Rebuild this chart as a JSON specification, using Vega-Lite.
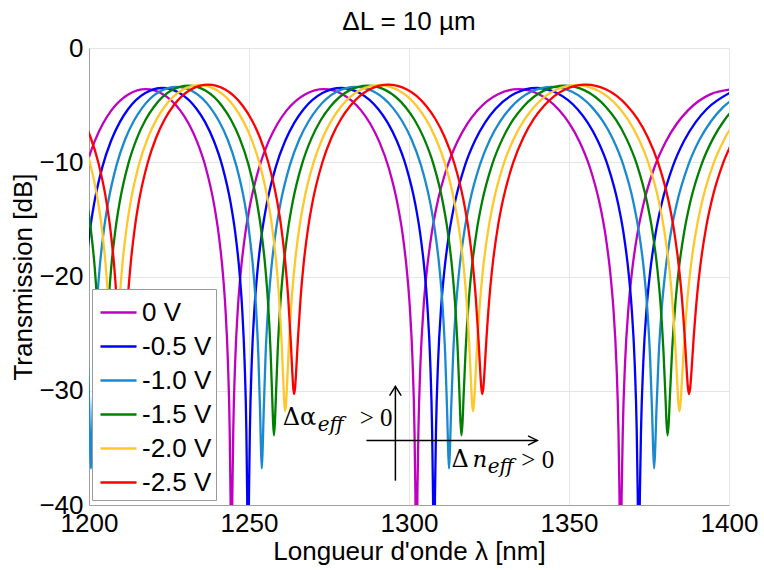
{
"$schema":"https://vega.github.io/schema/vega-lite/v6.json",
"width":640,"height":457,
"autosize":{"type":"none"},
"padding":{"left":89,"top":48,"right":35,"bottom":65},
"background":"white",
"config":{"font":"Liberation Sans","view":{"stroke":null}},
"title":{"text":"ΔL = 10 µm","fontSize":26,"fontWeight":"normal","frame":"group","anchor":"middle","offset":0,"color":"#000","font":"Liberation Sans"},
"datasets":{
"curves":[
{"V":"0 V","wl":1196.35,"T":-13.80},{"V":"0 V","wl":1199.03,"T":-10.46},{"V":"0 V","wl":1201.7,"T":-8.22},{"V":"0 V","wl":1204.38,"T":-6.61},{"V":"0 V","wl":1207.05,"T":-5.44},{"V":"0 V","wl":1212.4,"T":-4.04},{"V":"0 V","wl":1217.75,"T":-3.60},{"V":"0 V","wl":1223.1,"T":-4.04},{"V":"0 V","wl":1228.45,"T":-5.44},{"V":"0 V","wl":1231.13,"T":-6.61},{"V":"0 V","wl":1233.8,"T":-8.22},{"V":"0 V","wl":1236.48,"T":-10.46},{"V":"0 V","wl":1239.15,"T":-13.80},{"V":"0 V","wl":1240.49,"T":-16.23},{"V":"0 V","wl":1241.83,"T":-19.71},{"V":"0 V","wl":1242.63,"T":-22.78},{"V":"0 V","wl":1243.43,"T":-27.61},{"V":"0 V","wl":1243.97,"T":-33.52},{"V":"0 V","wl":1244.23,"T":-39.15},
{"V":"0 V","wl":1244.5,"T":-48.6},{"V":"0 V","wl":1244.79,"T":-39.15},{"V":"0 V","wl":1245.08,"T":-33.52},{"V":"0 V","wl":1245.66,"T":-27.61},{"V":"0 V","wl":1246.52,"T":-22.78},{"V":"0 V","wl":1247.39,"T":-19.71},{"V":"0 V","wl":1248.84,"T":-16.23},{"V":"0 V","wl":1250.28,"T":-13.80},{"V":"0 V","wl":1253.17,"T":-10.46},{"V":"0 V","wl":1256.06,"T":-8.22},{"V":"0 V","wl":1258.95,"T":-6.61},{"V":"0 V","wl":1261.84,"T":-5.44},{"V":"0 V","wl":1267.62,"T":-4.04},{"V":"0 V","wl":1273.4,"T":-3.60},{"V":"0 V","wl":1279.18,"T":-4.04},{"V":"0 V","wl":1284.96,"T":-5.44},{"V":"0 V","wl":1287.85,"T":-6.61},{"V":"0 V","wl":1290.74,"T":-8.22},{"V":"0 V","wl":1293.63,"T":-10.46},{"V":"0 V","wl":1296.52,"T":-13.80},{"V":"0 V","wl":1297.97,"T":-16.23},{"V":"0 V","wl":1299.41,"T":-19.71},{"V":"0 V","wl":1300.28,"T":-22.78},{"V":"0 V","wl":1301.14,"T":-27.61},{"V":"0 V","wl":1301.72,"T":-33.52},{"V":"0 V","wl":1302.01,"T":-39.15},
{"V":"0 V","wl":1302.3,"T":-48.6},{"V":"0 V","wl":1302.62,"T":-39.15},{"V":"0 V","wl":1302.94,"T":-33.52},{"V":"0 V","wl":1303.58,"T":-27.61},{"V":"0 V","wl":1304.53,"T":-22.78},{"V":"0 V","wl":1305.49,"T":-19.71},{"V":"0 V","wl":1307.09,"T":-16.23},{"V":"0 V","wl":1308.68,"T":-13.80},{"V":"0 V","wl":1311.87,"T":-10.46},{"V":"0 V","wl":1315.06,"T":-8.22},{"V":"0 V","wl":1318.25,"T":-6.61},{"V":"0 V","wl":1321.44,"T":-5.44},{"V":"0 V","wl":1327.82,"T":-4.04},{"V":"0 V","wl":1334.2,"T":-3.60},{"V":"0 V","wl":1340.58,"T":-4.04},{"V":"0 V","wl":1346.96,"T":-5.44},{"V":"0 V","wl":1350.15,"T":-6.61},{"V":"0 V","wl":1353.34,"T":-8.22},{"V":"0 V","wl":1356.53,"T":-10.46},{"V":"0 V","wl":1359.72,"T":-13.80},{"V":"0 V","wl":1361.32,"T":-16.23},{"V":"0 V","wl":1362.91,"T":-19.71},{"V":"0 V","wl":1363.87,"T":-22.78},{"V":"0 V","wl":1364.82,"T":-27.61},{"V":"0 V","wl":1365.46,"T":-33.52},{"V":"0 V","wl":1365.78,"T":-39.15},
{"V":"0 V","wl":1366.1,"T":-48.6},{"V":"0 V","wl":1366.45,"T":-39.15},{"V":"0 V","wl":1366.81,"T":-33.52},{"V":"0 V","wl":1367.51,"T":-27.61},{"V":"0 V","wl":1368.57,"T":-22.78},{"V":"0 V","wl":1369.63,"T":-19.71},{"V":"0 V","wl":1371.39,"T":-16.23},{"V":"0 V","wl":1373.15,"T":-13.80},{"V":"0 V","wl":1376.68,"T":-10.46},{"V":"0 V","wl":1380.2,"T":-8.22},{"V":"0 V","wl":1383.73,"T":-6.61},{"V":"0 V","wl":1387.25,"T":-5.44},{"V":"0 V","wl":1394.3,"T":-4.04},{"V":"0 V","wl":1401.35,"T":-3.60},

{"V":"-0.5 V","wl":1198.07,"T":-22.68},{"V":"-0.5 V","wl":1198.88,"T":-19.61},{"V":"-0.5 V","wl":1200.21,"T":-16.13},{"V":"-0.5 V","wl":1201.55,"T":-13.70},{"V":"-0.5 V","wl":1204.23,"T":-10.36},{"V":"-0.5 V","wl":1206.9,"T":-8.12},{"V":"-0.5 V","wl":1209.58,"T":-6.51},{"V":"-0.5 V","wl":1212.25,"T":-5.34},{"V":"-0.5 V","wl":1217.6,"T":-3.94},{"V":"-0.5 V","wl":1222.95,"T":-3.50},{"V":"-0.5 V","wl":1228.3,"T":-3.94},{"V":"-0.5 V","wl":1233.65,"T":-5.34},{"V":"-0.5 V","wl":1236.33,"T":-6.51},{"V":"-0.5 V","wl":1239.0,"T":-8.12},{"V":"-0.5 V","wl":1241.68,"T":-10.36},{"V":"-0.5 V","wl":1244.35,"T":-13.70},{"V":"-0.5 V","wl":1245.69,"T":-16.13},{"V":"-0.5 V","wl":1247.03,"T":-19.61},{"V":"-0.5 V","wl":1247.83,"T":-22.68},{"V":"-0.5 V","wl":1248.63,"T":-27.51},{"V":"-0.5 V","wl":1249.17,"T":-33.42},{"V":"-0.5 V","wl":1249.43,"T":-39.05},
{"V":"-0.5 V","wl":1249.7,"T":-48.5},{"V":"-0.5 V","wl":1249.99,"T":-39.05},{"V":"-0.5 V","wl":1250.28,"T":-33.42},{"V":"-0.5 V","wl":1250.86,"T":-27.51},{"V":"-0.5 V","wl":1251.73,"T":-22.68},{"V":"-0.5 V","wl":1252.61,"T":-19.61},{"V":"-0.5 V","wl":1254.06,"T":-16.13},{"V":"-0.5 V","wl":1255.51,"T":-13.70},{"V":"-0.5 V","wl":1258.42,"T":-10.36},{"V":"-0.5 V","wl":1261.32,"T":-8.12},{"V":"-0.5 V","wl":1264.23,"T":-6.51},{"V":"-0.5 V","wl":1267.13,"T":-5.34},{"V":"-0.5 V","wl":1272.94,"T":-3.94},{"V":"-0.5 V","wl":1278.75,"T":-3.50},{"V":"-0.5 V","wl":1284.56,"T":-3.94},{"V":"-0.5 V","wl":1290.37,"T":-5.34},{"V":"-0.5 V","wl":1293.28,"T":-6.51},{"V":"-0.5 V","wl":1296.18,"T":-8.12},{"V":"-0.5 V","wl":1299.09,"T":-10.36},{"V":"-0.5 V","wl":1301.99,"T":-13.70},{"V":"-0.5 V","wl":1303.44,"T":-16.13},{"V":"-0.5 V","wl":1304.9,"T":-19.61},{"V":"-0.5 V","wl":1305.77,"T":-22.68},{"V":"-0.5 V","wl":1306.64,"T":-27.51},{"V":"-0.5 V","wl":1307.22,"T":-33.42},{"V":"-0.5 V","wl":1307.51,"T":-39.05},
{"V":"-0.5 V","wl":1307.8,"T":-48.5},{"V":"-0.5 V","wl":1308.12,"T":-39.05},{"V":"-0.5 V","wl":1308.44,"T":-33.42},{"V":"-0.5 V","wl":1309.08,"T":-27.51},{"V":"-0.5 V","wl":1310.04,"T":-22.68},{"V":"-0.5 V","wl":1311.0,"T":-19.61},{"V":"-0.5 V","wl":1312.6,"T":-16.13},{"V":"-0.5 V","wl":1314.2,"T":-13.70},{"V":"-0.5 V","wl":1317.4,"T":-10.36},{"V":"-0.5 V","wl":1320.6,"T":-8.12},{"V":"-0.5 V","wl":1323.8,"T":-6.51},{"V":"-0.5 V","wl":1327.0,"T":-5.34},{"V":"-0.5 V","wl":1333.4,"T":-3.94},{"V":"-0.5 V","wl":1339.8,"T":-3.50},{"V":"-0.5 V","wl":1346.2,"T":-3.94},{"V":"-0.5 V","wl":1352.6,"T":-5.34},{"V":"-0.5 V","wl":1355.8,"T":-6.51},{"V":"-0.5 V","wl":1359.0,"T":-8.12},{"V":"-0.5 V","wl":1362.2,"T":-10.36},{"V":"-0.5 V","wl":1365.4,"T":-13.70},{"V":"-0.5 V","wl":1367.0,"T":-16.13},{"V":"-0.5 V","wl":1368.6,"T":-19.61},{"V":"-0.5 V","wl":1369.56,"T":-22.68},{"V":"-0.5 V","wl":1370.52,"T":-27.51},{"V":"-0.5 V","wl":1371.16,"T":-33.42},{"V":"-0.5 V","wl":1371.48,"T":-39.05},
{"V":"-0.5 V","wl":1371.8,"T":-48.5},{"V":"-0.5 V","wl":1372.15,"T":-39.05},{"V":"-0.5 V","wl":1372.51,"T":-33.42},{"V":"-0.5 V","wl":1373.22,"T":-27.51},{"V":"-0.5 V","wl":1374.28,"T":-22.68},{"V":"-0.5 V","wl":1375.35,"T":-19.61},{"V":"-0.5 V","wl":1377.12,"T":-16.13},{"V":"-0.5 V","wl":1378.89,"T":-13.70},{"V":"-0.5 V","wl":1382.44,"T":-10.36},{"V":"-0.5 V","wl":1385.98,"T":-8.12},{"V":"-0.5 V","wl":1389.53,"T":-6.51},{"V":"-0.5 V","wl":1393.07,"T":-5.34},{"V":"-0.5 V","wl":1400.16,"T":-3.94},

{"V":"-1.0 V","wl":1198.15,"T":-19.43},{"V":"-1.0 V","wl":1198.89,"T":-22.43},{"V":"-1.0 V","wl":1199.62,"T":-26.97},{"V":"-1.0 V","wl":1200.11,"T":-31.81},{"V":"-1.0 V","wl":1200.36,"T":-34.93},
{"V":"-1.0 V","wl":1200.6,"T":-36.80},{"V":"-1.0 V","wl":1200.87,"T":-34.93},{"V":"-1.0 V","wl":1201.13,"T":-31.81},{"V":"-1.0 V","wl":1201.67,"T":-26.97},{"V":"-1.0 V","wl":1202.47,"T":-22.43},{"V":"-1.0 V","wl":1203.27,"T":-19.43},{"V":"-1.0 V","wl":1204.61,"T":-16.00},{"V":"-1.0 V","wl":1205.94,"T":-13.58},{"V":"-1.0 V","wl":1208.61,"T":-10.25},{"V":"-1.0 V","wl":1211.28,"T":-8.01},{"V":"-1.0 V","wl":1213.95,"T":-6.41},{"V":"-1.0 V","wl":1216.62,"T":-5.24},{"V":"-1.0 V","wl":1221.96,"T":-3.83},{"V":"-1.0 V","wl":1227.3,"T":-3.40},{"V":"-1.0 V","wl":1232.64,"T":-3.83},{"V":"-1.0 V","wl":1237.98,"T":-5.24},{"V":"-1.0 V","wl":1240.65,"T":-6.41},{"V":"-1.0 V","wl":1243.32,"T":-8.01},{"V":"-1.0 V","wl":1245.99,"T":-10.25},{"V":"-1.0 V","wl":1248.66,"T":-13.58},{"V":"-1.0 V","wl":1250.0,"T":-16.00},{"V":"-1.0 V","wl":1251.33,"T":-19.43},{"V":"-1.0 V","wl":1252.13,"T":-22.43},{"V":"-1.0 V","wl":1252.93,"T":-26.97},{"V":"-1.0 V","wl":1253.47,"T":-31.81},{"V":"-1.0 V","wl":1253.73,"T":-34.93},
{"V":"-1.0 V","wl":1254.0,"T":-36.80},{"V":"-1.0 V","wl":1254.29,"T":-34.93},{"V":"-1.0 V","wl":1254.59,"T":-31.81},{"V":"-1.0 V","wl":1255.17,"T":-26.97},{"V":"-1.0 V","wl":1256.05,"T":-22.43},{"V":"-1.0 V","wl":1256.93,"T":-19.43},{"V":"-1.0 V","wl":1258.39,"T":-16.00},{"V":"-1.0 V","wl":1259.85,"T":-13.58},{"V":"-1.0 V","wl":1262.78,"T":-10.25},{"V":"-1.0 V","wl":1265.7,"T":-8.01},{"V":"-1.0 V","wl":1268.63,"T":-6.41},{"V":"-1.0 V","wl":1271.55,"T":-5.24},{"V":"-1.0 V","wl":1277.4,"T":-3.83},{"V":"-1.0 V","wl":1283.25,"T":-3.40},{"V":"-1.0 V","wl":1289.1,"T":-3.83},{"V":"-1.0 V","wl":1294.95,"T":-5.24},{"V":"-1.0 V","wl":1297.88,"T":-6.41},{"V":"-1.0 V","wl":1300.8,"T":-8.01},{"V":"-1.0 V","wl":1303.73,"T":-10.25},{"V":"-1.0 V","wl":1306.65,"T":-13.58},{"V":"-1.0 V","wl":1308.11,"T":-16.00},{"V":"-1.0 V","wl":1309.58,"T":-19.43},{"V":"-1.0 V","wl":1310.45,"T":-22.43},{"V":"-1.0 V","wl":1311.33,"T":-26.97},{"V":"-1.0 V","wl":1311.92,"T":-31.81},{"V":"-1.0 V","wl":1312.21,"T":-34.93},
{"V":"-1.0 V","wl":1312.5,"T":-36.80},{"V":"-1.0 V","wl":1312.82,"T":-34.93},{"V":"-1.0 V","wl":1313.14,"T":-31.81},{"V":"-1.0 V","wl":1313.78,"T":-26.97},{"V":"-1.0 V","wl":1314.74,"T":-22.43},{"V":"-1.0 V","wl":1315.71,"T":-19.43},{"V":"-1.0 V","wl":1317.31,"T":-16.00},{"V":"-1.0 V","wl":1318.91,"T":-13.58},{"V":"-1.0 V","wl":1322.12,"T":-10.25},{"V":"-1.0 V","wl":1325.32,"T":-8.01},{"V":"-1.0 V","wl":1328.53,"T":-6.41},{"V":"-1.0 V","wl":1331.73,"T":-5.24},{"V":"-1.0 V","wl":1338.14,"T":-3.83},{"V":"-1.0 V","wl":1344.55,"T":-3.40},{"V":"-1.0 V","wl":1350.96,"T":-3.83},{"V":"-1.0 V","wl":1357.37,"T":-5.24},{"V":"-1.0 V","wl":1360.58,"T":-6.41},{"V":"-1.0 V","wl":1363.78,"T":-8.01},{"V":"-1.0 V","wl":1366.99,"T":-10.25},{"V":"-1.0 V","wl":1370.19,"T":-13.58},{"V":"-1.0 V","wl":1371.79,"T":-16.00},{"V":"-1.0 V","wl":1373.4,"T":-19.43},{"V":"-1.0 V","wl":1374.36,"T":-22.43},{"V":"-1.0 V","wl":1375.32,"T":-26.97},{"V":"-1.0 V","wl":1375.96,"T":-31.81},{"V":"-1.0 V","wl":1376.28,"T":-34.93},
{"V":"-1.0 V","wl":1376.6,"T":-36.80},{"V":"-1.0 V","wl":1376.96,"T":-34.93},{"V":"-1.0 V","wl":1377.31,"T":-31.81},{"V":"-1.0 V","wl":1378.02,"T":-26.97},{"V":"-1.0 V","wl":1379.09,"T":-22.43},{"V":"-1.0 V","wl":1380.16,"T":-19.43},{"V":"-1.0 V","wl":1381.93,"T":-16.00},{"V":"-1.0 V","wl":1383.71,"T":-13.58},{"V":"-1.0 V","wl":1387.27,"T":-10.25},{"V":"-1.0 V","wl":1390.82,"T":-8.01},{"V":"-1.0 V","wl":1394.38,"T":-6.41},{"V":"-1.0 V","wl":1397.93,"T":-5.24},{"V":"-1.0 V","wl":1405.04,"T":-3.83},

{"V":"-1.5 V","wl":1196.89,"T":-10.14},{"V":"-1.5 V","wl":1199.34,"T":-13.46},{"V":"-1.5 V","wl":1200.57,"T":-15.87},{"V":"-1.5 V","wl":1201.8,"T":-19.26},{"V":"-1.5 V","wl":1202.53,"T":-22.19},{"V":"-1.5 V","wl":1203.27,"T":-26.48},{"V":"-1.5 V","wl":1203.76,"T":-30.61},{"V":"-1.5 V","wl":1204.0,"T":-32.82},
{"V":"-1.5 V","wl":1204.25,"T":-33.90},{"V":"-1.5 V","wl":1204.52,"T":-32.82},{"V":"-1.5 V","wl":1204.79,"T":-30.61},{"V":"-1.5 V","wl":1205.32,"T":-26.48},{"V":"-1.5 V","wl":1206.12,"T":-22.19},{"V":"-1.5 V","wl":1206.93,"T":-19.26},{"V":"-1.5 V","wl":1208.27,"T":-15.87},{"V":"-1.5 V","wl":1209.61,"T":-13.46},{"V":"-1.5 V","wl":1212.28,"T":-10.14},{"V":"-1.5 V","wl":1214.96,"T":-7.91},{"V":"-1.5 V","wl":1217.64,"T":-6.30},{"V":"-1.5 V","wl":1220.32,"T":-5.14},{"V":"-1.5 V","wl":1225.67,"T":-3.73},{"V":"-1.5 V","wl":1231.03,"T":-3.30},{"V":"-1.5 V","wl":1236.38,"T":-3.73},{"V":"-1.5 V","wl":1241.74,"T":-5.14},{"V":"-1.5 V","wl":1244.41,"T":-6.30},{"V":"-1.5 V","wl":1247.09,"T":-7.91},{"V":"-1.5 V","wl":1249.77,"T":-10.14},{"V":"-1.5 V","wl":1252.45,"T":-13.46},{"V":"-1.5 V","wl":1253.78,"T":-15.87},{"V":"-1.5 V","wl":1255.12,"T":-19.26},{"V":"-1.5 V","wl":1255.93,"T":-22.19},{"V":"-1.5 V","wl":1256.73,"T":-26.48},{"V":"-1.5 V","wl":1257.26,"T":-30.61},{"V":"-1.5 V","wl":1257.53,"T":-32.82},
{"V":"-1.5 V","wl":1257.8,"T":-33.90},{"V":"-1.5 V","wl":1258.09,"T":-32.82},{"V":"-1.5 V","wl":1258.39,"T":-30.61},{"V":"-1.5 V","wl":1258.97,"T":-26.48},{"V":"-1.5 V","wl":1259.85,"T":-22.19},{"V":"-1.5 V","wl":1260.73,"T":-19.26},{"V":"-1.5 V","wl":1262.2,"T":-15.87},{"V":"-1.5 V","wl":1263.66,"T":-13.46},{"V":"-1.5 V","wl":1266.59,"T":-10.14},{"V":"-1.5 V","wl":1269.52,"T":-7.91},{"V":"-1.5 V","wl":1272.45,"T":-6.30},{"V":"-1.5 V","wl":1275.38,"T":-5.14},{"V":"-1.5 V","wl":1281.24,"T":-3.73},{"V":"-1.5 V","wl":1287.1,"T":-3.30},{"V":"-1.5 V","wl":1292.96,"T":-3.73},{"V":"-1.5 V","wl":1298.82,"T":-5.14},{"V":"-1.5 V","wl":1301.75,"T":-6.30},{"V":"-1.5 V","wl":1304.68,"T":-7.91},{"V":"-1.5 V","wl":1307.61,"T":-10.14},{"V":"-1.5 V","wl":1310.54,"T":-13.46},{"V":"-1.5 V","wl":1312.01,"T":-15.87},{"V":"-1.5 V","wl":1313.47,"T":-19.26},{"V":"-1.5 V","wl":1314.35,"T":-22.19},{"V":"-1.5 V","wl":1315.23,"T":-26.48},{"V":"-1.5 V","wl":1315.81,"T":-30.61},{"V":"-1.5 V","wl":1316.11,"T":-32.82},
{"V":"-1.5 V","wl":1316.4,"T":-33.90},{"V":"-1.5 V","wl":1316.72,"T":-32.82},{"V":"-1.5 V","wl":1317.04,"T":-30.61},{"V":"-1.5 V","wl":1317.69,"T":-26.48},{"V":"-1.5 V","wl":1318.65,"T":-22.19},{"V":"-1.5 V","wl":1319.62,"T":-19.26},{"V":"-1.5 V","wl":1321.23,"T":-15.87},{"V":"-1.5 V","wl":1322.84,"T":-13.46},{"V":"-1.5 V","wl":1326.06,"T":-10.14},{"V":"-1.5 V","wl":1329.28,"T":-7.91},{"V":"-1.5 V","wl":1332.5,"T":-6.30},{"V":"-1.5 V","wl":1335.72,"T":-5.14},{"V":"-1.5 V","wl":1342.16,"T":-3.73},{"V":"-1.5 V","wl":1348.6,"T":-3.30},{"V":"-1.5 V","wl":1355.04,"T":-3.73},{"V":"-1.5 V","wl":1361.48,"T":-5.14},{"V":"-1.5 V","wl":1364.7,"T":-6.30},{"V":"-1.5 V","wl":1367.92,"T":-7.91},{"V":"-1.5 V","wl":1371.14,"T":-10.14},{"V":"-1.5 V","wl":1374.36,"T":-13.46},{"V":"-1.5 V","wl":1375.97,"T":-15.87},{"V":"-1.5 V","wl":1377.58,"T":-19.26},{"V":"-1.5 V","wl":1378.55,"T":-22.19},{"V":"-1.5 V","wl":1379.51,"T":-26.48},{"V":"-1.5 V","wl":1380.16,"T":-30.61},{"V":"-1.5 V","wl":1380.48,"T":-32.82},
{"V":"-1.5 V","wl":1380.8,"T":-33.90},{"V":"-1.5 V","wl":1381.16,"T":-32.82},{"V":"-1.5 V","wl":1381.51,"T":-30.61},{"V":"-1.5 V","wl":1382.22,"T":-26.48},{"V":"-1.5 V","wl":1383.29,"T":-22.19},{"V":"-1.5 V","wl":1384.36,"T":-19.26},{"V":"-1.5 V","wl":1386.14,"T":-15.87},{"V":"-1.5 V","wl":1387.92,"T":-13.46},{"V":"-1.5 V","wl":1391.48,"T":-10.14},{"V":"-1.5 V","wl":1395.04,"T":-7.91},{"V":"-1.5 V","wl":1398.6,"T":-6.30},{"V":"-1.5 V","wl":1402.16,"T":-5.14},

{"V":"-2.0 V","wl":1197.86,"T":-7.85},{"V":"-2.0 V","wl":1200.32,"T":-10.08},{"V":"-2.0 V","wl":1202.78,"T":-13.39},{"V":"-2.0 V","wl":1204.01,"T":-15.78},{"V":"-2.0 V","wl":1205.24,"T":-19.12},{"V":"-2.0 V","wl":1205.98,"T":-21.97},{"V":"-2.0 V","wl":1206.72,"T":-25.98},{"V":"-2.0 V","wl":1207.21,"T":-29.48},{"V":"-2.0 V","wl":1207.45,"T":-31.09},
{"V":"-2.0 V","wl":1207.7,"T":-31.80},{"V":"-2.0 V","wl":1207.97,"T":-31.09},{"V":"-2.0 V","wl":1208.24,"T":-29.48},{"V":"-2.0 V","wl":1208.77,"T":-25.98},{"V":"-2.0 V","wl":1209.58,"T":-21.97},{"V":"-2.0 V","wl":1210.38,"T":-19.12},{"V":"-2.0 V","wl":1211.72,"T":-15.78},{"V":"-2.0 V","wl":1213.06,"T":-13.39},{"V":"-2.0 V","wl":1215.74,"T":-10.08},{"V":"-2.0 V","wl":1218.42,"T":-7.85},{"V":"-2.0 V","wl":1221.1,"T":-6.25},{"V":"-2.0 V","wl":1223.78,"T":-5.08},{"V":"-2.0 V","wl":1229.14,"T":-3.68},{"V":"-2.0 V","wl":1234.5,"T":-3.25},{"V":"-2.0 V","wl":1239.86,"T":-3.68},{"V":"-2.0 V","wl":1245.22,"T":-5.08},{"V":"-2.0 V","wl":1247.9,"T":-6.25},{"V":"-2.0 V","wl":1250.58,"T":-7.85},{"V":"-2.0 V","wl":1253.26,"T":-10.08},{"V":"-2.0 V","wl":1255.94,"T":-13.39},{"V":"-2.0 V","wl":1257.28,"T":-15.78},{"V":"-2.0 V","wl":1258.62,"T":-19.12},{"V":"-2.0 V","wl":1259.42,"T":-21.97},{"V":"-2.0 V","wl":1260.23,"T":-25.98},{"V":"-2.0 V","wl":1260.76,"T":-29.48},{"V":"-2.0 V","wl":1261.03,"T":-31.09},
{"V":"-2.0 V","wl":1261.3,"T":-31.80},{"V":"-2.0 V","wl":1261.59,"T":-31.09},{"V":"-2.0 V","wl":1261.89,"T":-29.48},{"V":"-2.0 V","wl":1262.47,"T":-25.98},{"V":"-2.0 V","wl":1263.35,"T":-21.97},{"V":"-2.0 V","wl":1264.24,"T":-19.12},{"V":"-2.0 V","wl":1265.7,"T":-15.78},{"V":"-2.0 V","wl":1267.17,"T":-13.39},{"V":"-2.0 V","wl":1270.11,"T":-10.08},{"V":"-2.0 V","wl":1273.04,"T":-7.85},{"V":"-2.0 V","wl":1275.98,"T":-6.25},{"V":"-2.0 V","wl":1278.91,"T":-5.08},{"V":"-2.0 V","wl":1284.78,"T":-3.68},{"V":"-2.0 V","wl":1290.65,"T":-3.25},{"V":"-2.0 V","wl":1296.52,"T":-3.68},{"V":"-2.0 V","wl":1302.39,"T":-5.08},{"V":"-2.0 V","wl":1305.33,"T":-6.25},{"V":"-2.0 V","wl":1308.26,"T":-7.85},{"V":"-2.0 V","wl":1311.2,"T":-10.08},{"V":"-2.0 V","wl":1314.13,"T":-13.39},{"V":"-2.0 V","wl":1315.6,"T":-15.78},{"V":"-2.0 V","wl":1317.07,"T":-19.12},{"V":"-2.0 V","wl":1317.95,"T":-21.97},{"V":"-2.0 V","wl":1318.83,"T":-25.98},{"V":"-2.0 V","wl":1319.41,"T":-29.48},{"V":"-2.0 V","wl":1319.71,"T":-31.09},
{"V":"-2.0 V","wl":1320.0,"T":-31.80},{"V":"-2.0 V","wl":1320.32,"T":-31.09},{"V":"-2.0 V","wl":1320.65,"T":-29.48},{"V":"-2.0 V","wl":1321.29,"T":-25.98},{"V":"-2.0 V","wl":1322.26,"T":-21.97},{"V":"-2.0 V","wl":1323.23,"T":-19.12},{"V":"-2.0 V","wl":1324.84,"T":-15.78},{"V":"-2.0 V","wl":1326.45,"T":-13.39},{"V":"-2.0 V","wl":1329.68,"T":-10.08},{"V":"-2.0 V","wl":1332.9,"T":-7.85},{"V":"-2.0 V","wl":1336.13,"T":-6.25},{"V":"-2.0 V","wl":1339.35,"T":-5.08},{"V":"-2.0 V","wl":1345.8,"T":-3.68},{"V":"-2.0 V","wl":1352.25,"T":-3.25},{"V":"-2.0 V","wl":1358.7,"T":-3.68},{"V":"-2.0 V","wl":1365.15,"T":-5.08},{"V":"-2.0 V","wl":1368.38,"T":-6.25},{"V":"-2.0 V","wl":1371.6,"T":-7.85},{"V":"-2.0 V","wl":1374.83,"T":-10.08},{"V":"-2.0 V","wl":1378.05,"T":-13.39},{"V":"-2.0 V","wl":1379.66,"T":-15.78},{"V":"-2.0 V","wl":1381.28,"T":-19.12},{"V":"-2.0 V","wl":1382.24,"T":-21.97},{"V":"-2.0 V","wl":1383.21,"T":-25.98},{"V":"-2.0 V","wl":1383.86,"T":-29.48},{"V":"-2.0 V","wl":1384.18,"T":-31.09},
{"V":"-2.0 V","wl":1384.5,"T":-31.80},{"V":"-2.0 V","wl":1384.86,"T":-31.09},{"V":"-2.0 V","wl":1385.21,"T":-29.48},{"V":"-2.0 V","wl":1385.93,"T":-25.98},{"V":"-2.0 V","wl":1387.0,"T":-21.97},{"V":"-2.0 V","wl":1388.07,"T":-19.12},{"V":"-2.0 V","wl":1389.86,"T":-15.78},{"V":"-2.0 V","wl":1391.64,"T":-13.39},{"V":"-2.0 V","wl":1395.21,"T":-10.08},{"V":"-2.0 V","wl":1398.78,"T":-7.85},{"V":"-2.0 V","wl":1402.35,"T":-6.25},

{"V":"-2.5 V","wl":1197.98,"T":-6.19},{"V":"-2.5 V","wl":1200.44,"T":-7.79},{"V":"-2.5 V","wl":1202.91,"T":-10.02},{"V":"-2.5 V","wl":1205.37,"T":-13.31},{"V":"-2.5 V","wl":1206.6,"T":-15.68},{"V":"-2.5 V","wl":1207.84,"T":-18.98},{"V":"-2.5 V","wl":1208.57,"T":-21.74},{"V":"-2.5 V","wl":1209.31,"T":-25.50},{"V":"-2.5 V","wl":1209.81,"T":-28.52},{"V":"-2.5 V","wl":1210.05,"T":-29.78},
{"V":"-2.5 V","wl":1210.3,"T":-30.30},{"V":"-2.5 V","wl":1210.57,"T":-29.78},{"V":"-2.5 V","wl":1210.84,"T":-28.52},{"V":"-2.5 V","wl":1211.38,"T":-25.50},{"V":"-2.5 V","wl":1212.18,"T":-21.74},{"V":"-2.5 V","wl":1212.99,"T":-18.98},{"V":"-2.5 V","wl":1214.34,"T":-15.68},{"V":"-2.5 V","wl":1215.68,"T":-13.31},{"V":"-2.5 V","wl":1218.37,"T":-10.02},{"V":"-2.5 V","wl":1221.06,"T":-7.79},{"V":"-2.5 V","wl":1223.75,"T":-6.19},{"V":"-2.5 V","wl":1226.44,"T":-5.03},{"V":"-2.5 V","wl":1231.82,"T":-3.63},{"V":"-2.5 V","wl":1237.2,"T":-3.20},{"V":"-2.5 V","wl":1242.58,"T":-3.63},{"V":"-2.5 V","wl":1247.96,"T":-5.03},{"V":"-2.5 V","wl":1250.65,"T":-6.19},{"V":"-2.5 V","wl":1253.34,"T":-7.79},{"V":"-2.5 V","wl":1256.03,"T":-10.02},{"V":"-2.5 V","wl":1258.72,"T":-13.31},{"V":"-2.5 V","wl":1260.07,"T":-15.68},{"V":"-2.5 V","wl":1261.41,"T":-18.98},{"V":"-2.5 V","wl":1262.22,"T":-21.74},{"V":"-2.5 V","wl":1263.02,"T":-25.50},{"V":"-2.5 V","wl":1263.56,"T":-28.52},{"V":"-2.5 V","wl":1263.83,"T":-29.78},
{"V":"-2.5 V","wl":1264.1,"T":-30.30},{"V":"-2.5 V","wl":1264.39,"T":-29.78},{"V":"-2.5 V","wl":1264.69,"T":-28.52},{"V":"-2.5 V","wl":1265.28,"T":-25.50},{"V":"-2.5 V","wl":1266.16,"T":-21.74},{"V":"-2.5 V","wl":1267.04,"T":-18.98},{"V":"-2.5 V","wl":1268.51,"T":-15.68},{"V":"-2.5 V","wl":1269.98,"T":-13.31},{"V":"-2.5 V","wl":1272.92,"T":-10.02},{"V":"-2.5 V","wl":1275.86,"T":-7.79},{"V":"-2.5 V","wl":1278.8,"T":-6.19},{"V":"-2.5 V","wl":1281.74,"T":-5.03},{"V":"-2.5 V","wl":1287.62,"T":-3.63},{"V":"-2.5 V","wl":1293.5,"T":-3.20},{"V":"-2.5 V","wl":1299.38,"T":-3.63},{"V":"-2.5 V","wl":1305.26,"T":-5.03},{"V":"-2.5 V","wl":1308.2,"T":-6.19},{"V":"-2.5 V","wl":1311.14,"T":-7.79},{"V":"-2.5 V","wl":1314.08,"T":-10.02},{"V":"-2.5 V","wl":1317.02,"T":-13.31},{"V":"-2.5 V","wl":1318.49,"T":-15.68},{"V":"-2.5 V","wl":1319.96,"T":-18.98},{"V":"-2.5 V","wl":1320.84,"T":-21.74},{"V":"-2.5 V","wl":1321.72,"T":-25.50},{"V":"-2.5 V","wl":1322.31,"T":-28.52},{"V":"-2.5 V","wl":1322.61,"T":-29.78},
{"V":"-2.5 V","wl":1322.9,"T":-30.30},{"V":"-2.5 V","wl":1323.22,"T":-29.78},{"V":"-2.5 V","wl":1323.55,"T":-28.52},{"V":"-2.5 V","wl":1324.19,"T":-25.50},{"V":"-2.5 V","wl":1325.16,"T":-21.74},{"V":"-2.5 V","wl":1326.13,"T":-18.98},{"V":"-2.5 V","wl":1327.75,"T":-15.68},{"V":"-2.5 V","wl":1329.36,"T":-13.31},{"V":"-2.5 V","wl":1332.59,"T":-10.02},{"V":"-2.5 V","wl":1335.82,"T":-7.79},{"V":"-2.5 V","wl":1339.05,"T":-6.19},{"V":"-2.5 V","wl":1342.28,"T":-5.03},{"V":"-2.5 V","wl":1348.74,"T":-3.63},{"V":"-2.5 V","wl":1355.2,"T":-3.20},{"V":"-2.5 V","wl":1361.66,"T":-3.63},{"V":"-2.5 V","wl":1368.12,"T":-5.03},{"V":"-2.5 V","wl":1371.35,"T":-6.19},{"V":"-2.5 V","wl":1374.58,"T":-7.79},{"V":"-2.5 V","wl":1377.81,"T":-10.02},{"V":"-2.5 V","wl":1381.04,"T":-13.31},{"V":"-2.5 V","wl":1382.66,"T":-15.68},{"V":"-2.5 V","wl":1384.27,"T":-18.98},{"V":"-2.5 V","wl":1385.24,"T":-21.74},{"V":"-2.5 V","wl":1386.21,"T":-25.50},{"V":"-2.5 V","wl":1386.85,"T":-28.52},{"V":"-2.5 V","wl":1387.18,"T":-29.78},
{"V":"-2.5 V","wl":1387.5,"T":-30.30},{"V":"-2.5 V","wl":1387.86,"T":-29.78},{"V":"-2.5 V","wl":1388.22,"T":-28.52},{"V":"-2.5 V","wl":1388.93,"T":-25.50},{"V":"-2.5 V","wl":1390.0,"T":-21.74},{"V":"-2.5 V","wl":1391.08,"T":-18.98},{"V":"-2.5 V","wl":1392.86,"T":-15.68},{"V":"-2.5 V","wl":1394.65,"T":-13.31},{"V":"-2.5 V","wl":1398.23,"T":-10.02},{"V":"-2.5 V","wl":1401.8,"T":-7.79}
],
"arrows":[
{"wl":1295.75,"T":-37.87,"wl2":1295.75,"T2":-29.62},
{"wl":1286.7,"T":-34.35,"wl2":1340.1,"T2":-34.35}
],
"heads":[
{"dir":"up","wl":1295.75,"T":-29.62},
{"dir":"right","wl":1340.1,"T":-34.35}
],
"labels":[
{"t":"Δα","part":"greek","wl":1260.53,"T":-32.36},
{"t":"eff","part":"sub","wl":1271.47,"T":-32.97},
{"t":"> 0","part":"rel","wl":1284.6,"T":-32.36},
{"t":"Δ","part":"greek","wl":1313.25,"T":-36.04},
{"t":"n","part":"var","wl":1319.81,"T":-36.04},
{"t":"eff","part":"sub","wl":1324.6,"T":-36.71},
{"t":"> 0","part":"rel","wl":1335.1,"T":-36.04}
]
},
"layer":[
{
"data":{"name":"curves"},
"mark":{"type":"line","interpolate":"monotone","clip":true,"strokeWidth":2.3},
"encoding":{
"x":{"field":"wl","type":"quantitative","scale":{"domain":[1200,1400],"nice":false,"zero":false},
"axis":{"title":"Longueur d'onde λ [nm]","values":[1200,1250,1300,1350,1400],"format":"d","grid":true,"gridColor":"#e6e6e6","domainColor":"#a0a0a0","ticks":false,"labelFontSize":26,"titleFontSize":26,"titleFontWeight":"normal","labelColor":"#000","titleColor":"#000","labelPadding":5,"titlePadding":2,"labelFlush":false,"labelOverlap":false}},
"y":{"field":"T","type":"quantitative","scale":{"domain":[-40,0],"nice":false,"zero":false},
"axis":{"title":"Transmission [dB]","values":[-40,-30,-20,-10,0],"format":"d","grid":true,"gridColor":"#e6e6e6","domainColor":"#a0a0a0","ticks":false,"labelFontSize":26,"titleFontSize":26,"titleFontWeight":"normal","labelColor":"#000","titleColor":"#000","labelPadding":6,"titlePadding":2,"labelFlush":false,"labelOverlap":false}},
"color":{"field":"V","type":"nominal","scale":{"domain":["0 V","-0.5 V","-1.0 V","-1.5 V","-2.0 V","-2.5 V"],"range":["#c000c0","#0000ff","#1a8ad0","#008000","#ffc82a","#ff0000"]},
"legend":{"orient":"none","legendX":3,"legendY":241,"title":null,"symbolType":"stroke","symbolSize":1300,"symbolStrokeWidth":2.5,"symbolOffset":3,"labelFontSize":26,"labelColor":"#000","fillColor":"white","strokeColor":"#9a9a9a","padding":4,"rowPadding":1,"labelOffset":4}}
}
},
{
"data":{"name":"arrows"},
"mark":{"type":"rule","color":"black","strokeWidth":1.5},
"encoding":{"x":{"field":"wl","type":"quantitative"},"y":{"field":"T","type":"quantitative"},"x2":{"field":"wl2"},"y2":{"field":"T2"}}
},
{
"data":{"name":"heads"},
"mark":{"type":"point","filled":false,"stroke":"black","strokeWidth":1.5,"size":135,"opacity":1},
"encoding":{"x":{"field":"wl","type":"quantitative"},"y":{"field":"T","type":"quantitative"},
"shape":{"field":"dir","type":"nominal","scale":{"domain":["up","right"],"range":["M-1,1.6L0,0L1,1.6","M-1.6,-0.8L0,0L-1.6,0.8"]},"legend":null}}
},
{
"data":{"name":"labels"},
"transform":[{"filter":"datum.part === 'greek'"}],
"mark":{"type":"text","align":"left","baseline":"middle","font":"DejaVu Serif","fontSize":24,"color":"black"},
"encoding":{"x":{"field":"wl","type":"quantitative"},"y":{"field":"T","type":"quantitative"},"text":{"field":"t"}}
},
{
"data":{"name":"labels"},
"transform":[{"filter":"datum.part === 'rel'"}],
"mark":{"type":"text","align":"left","baseline":"middle","font":"Liberation Serif","fontSize":25,"color":"black"},
"encoding":{"x":{"field":"wl","type":"quantitative"},"y":{"field":"T","type":"quantitative"},"text":{"field":"t"}}
},
{
"data":{"name":"labels"},
"transform":[{"filter":"datum.part === 'var'"}],
"mark":{"type":"text","align":"left","baseline":"middle","font":"DejaVu Serif","fontStyle":"italic","fontSize":23,"color":"black"},
"encoding":{"x":{"field":"wl","type":"quantitative"},"y":{"field":"T","type":"quantitative"},"text":{"field":"t"}}
},
{
"data":{"name":"labels"},
"transform":[{"filter":"datum.part === 'sub'"}],
"mark":{"type":"text","align":"left","baseline":"middle","font":"DejaVu Serif","fontStyle":"italic","fontSize":20,"color":"black"},
"encoding":{"x":{"field":"wl","type":"quantitative"},"y":{"field":"T","type":"quantitative"},"text":{"field":"t"}}
}
]
}
